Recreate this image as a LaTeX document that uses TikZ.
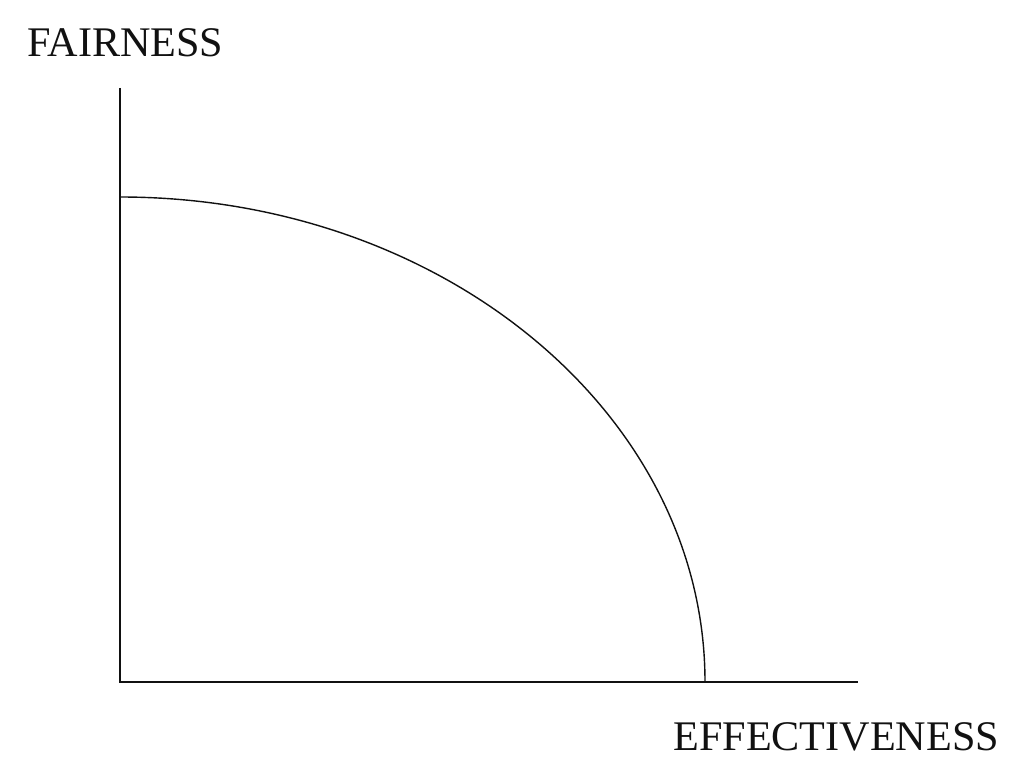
\documentclass[tikz,border=0pt]{standalone}
\usepackage{fontspec}
\setmainfont{Liberation Serif}
\usepackage{tikz}
\usetikzlibrary{positioning}
\definecolor{frInk}{HTML}{111111}
\tikzset{
    axisline/.style={line width=0.8pt, draw=frInk},
    frontier/.style={line width=0.8pt, draw=frInk},
    axislabel/.style={font=\fontsize{24}{28}\selectfont, text=frInk, inner sep=0pt, anchor=base west}
}
\begin{document}
\begin{tikzpicture}[x=0.02cm,y=-0.02cm]
\useasboundingbox (0,0) rectangle (1029,777);
\coordinate (origin) at (120,682);
\coordinate (ytop) at (120,88);
\coordinate (xend) at (858,682);
\draw[axisline] (ytop) -- (origin) -- (xend);
% quarter ellipse frontier
\draw[frontier] (120,197) arc[start angle=-90, end angle=0, x radius=585, y radius=485];
\node[axislabel] (fair) at (27,57) {FAIRNESS};
\node[axislabel] (eff) at (673,750) {EFFECTIVENESS};
\end{tikzpicture}
\end{document}
